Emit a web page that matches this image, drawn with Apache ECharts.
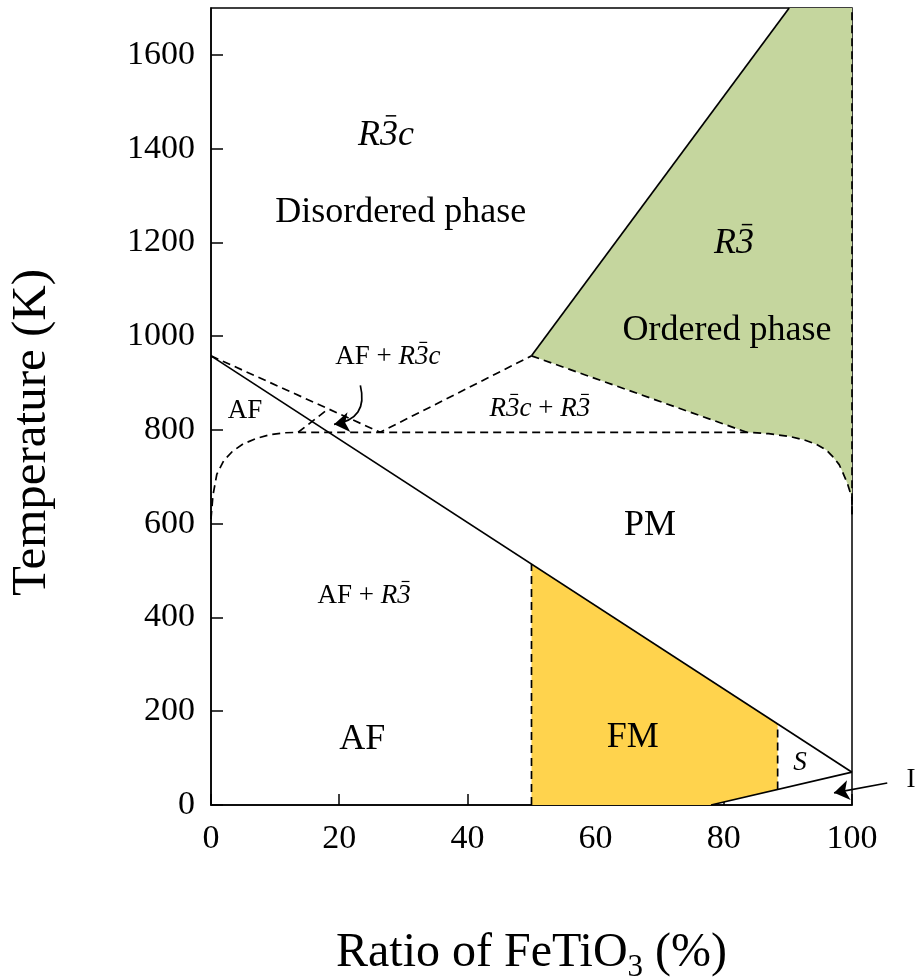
<!DOCTYPE html>
<html>
<head>
<meta charset="utf-8">
<script src="https://cdn.jsdelivr.net/npm/echarts@6/dist/echarts.min.js"></script>
<style>
  html, body { margin: 0; padding: 0; background: #fff; }
  #chart { width: 917px; height: 980px; }
</style>
</head>
<body>
<div id="chart"></div>
<script>
// phase boundaries, [ratio %, temperature K]
const upperSolid = [[0, 958], [100, 70]];
const lowerSolid = [[78, 0], [100, 70]];
const orderSolid = [[50, 958], [90.2, 1700]];
const afR3cDashed = [[0, 958], [26.4, 795], [50, 958]];
const orderDashed = [[50, 958], [83.6, 795]];
const plateauDashed = [
  [0, 610], [0.3, 660], [0.9, 705], [2, 735], [3.4, 755], [5, 770], [7.1, 782],
  [9.2, 790], [11.5, 794], [14, 795], [83.6, 795], [87, 792], [90.3, 786],
  [92.5, 779], [94.5, 769], [96, 757], [97, 743], [98, 726], [98.6, 708],
  [99.3, 685], [100, 655], [100, 620]
];
const shortDashed = [[13.6, 795], [18.3, 845]];
const fmLeftDashed = [[50, 0], [50, 514]];
const fmRightDashed = [[88.4, 33], [88.4, 173]];
const rightDashed = [[100, 620], [100, 1700]];

// filled regions
const orderedRegion = [
  [50, 958], [90.2, 1700], [100, 1700], [100, 620], [100, 655], [99.3, 685],
  [98.6, 708], [98, 726], [97, 743], [96, 757], [94.5, 769], [92.5, 779],
  [90.3, 786], [87, 792], [83.6, 795]
];
const fmRegion = [[50, 0], [50, 514], [88.4, 173], [88.4, 33], [78, 0]];

// arrows: from, to
const arrowAF = [[23.3, 895], [19.2, 812]];
const arrowI = [[105.5, 47], [97.2, 26]];

// {b|3} = italic 3 that gets an overbar
const R3c = '{i|R}{b|3}{i|c}';
const R3 = '{i|R}{b|3}';

const bigLabels = [
  [27.3, 1429, R3c],
  [29.6, 1263, 'Disordered phase'],
  [81.6, 1197, R3],
  [80.5, 1013, 'Ordered phase'],
  [68.5, 597, 'PM'],
  [23.6, 139, 'AF'],
  [65.8, 143, 'FM']
];
const smallLabels = [
  [27.6, 956, 'AF + ' + R3c],
  [5.3, 840, 'AF'],
  [51.3, 845, R3c + ' + ' + R3],
  [23.9, 446, 'AF + ' + R3],
  [91.9, 90, '{i|S}'],
  [109.2, 53, 'I']
];

const FONT = 'Liberation Serif';
const GREEN = '#c5d69e';
const YELLOW = '#ffd34d';

const measureCtx = document.createElement('canvas').getContext('2d');

function parseTokens(str) {
  const re = /\{(\w+)\|([^}]*)\}|([^{]+)/g;
  const out = [];
  let m;
  while ((m = re.exec(str))) {
    if (m[1]) out.push({ style: m[1], text: m[2] });
    else out.push({ style: 'n', text: m[3] });
  }
  return out;
}

function fontFor(style, size) {
  return (style === 'n' ? 'normal' : 'italic') + ' normal ' + size + 'px ' + FONT;
}

// overbars above every {b|3}, placed from the measured text
function overbars(items, size, api) {
  const bars = [];
  items.forEach(function (d) {
    const tokens = parseTokens(d[2]);
    if (!tokens.some(t => t.style === 'b')) return;
    const widths = tokens.map(function (t) {
      measureCtx.font = fontFor(t.style, size);
      return measureCtx.measureText(t.text).width;
    });
    const total = widths.reduce((a, b) => a + b, 0);
    const c = api.coord([d[0], d[1]]);
    measureCtx.font = fontFor('b', size);
    measureCtx.textBaseline = 'middle';
    const top = c[1] - measureCtx.measureText('3').actualBoundingBoxAscent;
    let x = c[0] - total / 2;
    tokens.forEach(function (t, k) {
      if (t.style === 'b') {
        const w = widths[k];
        const y = top - size * 0.13;
        bars.push({
          type: 'line',
          shape: { x1: x + w * 0.32, y1: y, x2: x + w * 0.9, y2: y },
          style: { stroke: '#000', lineWidth: Math.max(1.2, size / 24) }
        });
      }
      x += widths[k];
    });
  });
  return bars;
}

function polygonSeries(points, color) {
  return {
    type: 'custom',
    silent: true,
    data: [0],
    renderItem: function (params, api) {
      return {
        type: 'polygon',
        shape: { points: points.map(p => api.coord(p)) },
        style: { fill: color }
      };
    },
    z: 1
  };
}

function lineSeries(points, dashed) {
  return {
    type: 'line',
    data: points,
    showSymbol: false,
    symbol: 'none',
    silent: true,
    lineStyle: { color: '#000', width: 1.7, type: dashed ? [8, 5] : 'solid' },
    z: 3
  };
}

function labelSeries(items, size) {
  const base = { fontFamily: FONT, fontSize: size, color: '#000', textBorderWidth: 0, opacity: 1 };
  return {
    type: 'scatter',
    symbolSize: 0,
    silent: true,
    clip: false,
    itemStyle: { opacity: 1 },
    data: items.map(d => [d[0], d[1], d[2]]),
    label: Object.assign({
      show: true,
      position: 'inside',
      formatter: p => p.data[2],
      rich: {
        i: Object.assign({ fontStyle: 'italic' }, base),
        b: Object.assign({ fontStyle: 'italic' }, base)
      }
    }, base),
    z: 5
  };
}

const chart = echarts.init(document.getElementById('chart'));

chart.setOption({
  animation: false,
  grid: {
    left: 211, right: 65, top: 8, bottom: 175,
    outerBoundsMode: 'none',
    containLabel: false,
    show: true, borderColor: '#000', borderWidth: 1.5, backgroundColor: '#fff'
  },
  xAxis: {
    type: 'value',
    min: 0, max: 100, interval: 20,
    name: 'Ratio of FeTiO{sub|3} (%)',
    nameLocation: 'middle',
    nameGap: 119,
    nameTextStyle: {
      fontFamily: FONT, fontSize: 48, color: '#000',
      rich: {
        sub: { fontFamily: FONT, fontSize: 31, color: '#000', padding: [28, 0, 0, 0] }
      }
    },
    axisLine: { lineStyle: { color: '#000', width: 1.5 } },
    axisTick: { inside: true, length: 11, lineStyle: { color: '#000', width: 1.5 } },
    axisLabel: { fontFamily: FONT, fontSize: 34, color: '#000', margin: 17 },
    splitLine: { show: false }
  },
  yAxis: {
    type: 'value',
    min: 0, max: 1700, interval: 200,
    name: 'Temperature (K)',
    nameLocation: 'middle',
    nameGap: 154,
    nameTextStyle: { fontFamily: FONT, fontSize: 49, color: '#000', padding: [0, 52, 0, 0] },
    axisLine: { lineStyle: { color: '#000', width: 1.5 } },
    axisTick: { inside: true, length: 12, lineStyle: { color: '#000', width: 1.5 } },
    axisLabel: {
      fontFamily: FONT, fontSize: 34, color: '#000', margin: 16, showMaxLabel: false,
      formatter: v => String(v)
    },
    splitLine: { show: false }
  },
  series: [
    polygonSeries(orderedRegion, GREEN),
    polygonSeries(fmRegion, YELLOW),
    lineSeries(upperSolid, false),
    lineSeries(lowerSolid, false),
    lineSeries(orderSolid, false),
    lineSeries(afR3cDashed, true),
    lineSeries(orderDashed, true),
    lineSeries(plateauDashed, true),
    lineSeries(shortDashed, true),
    lineSeries(fmLeftDashed, true),
    lineSeries(fmRightDashed, true),
    lineSeries(rightDashed, true),
    {
      type: 'lines',
      coordinateSystem: 'cartesian2d',
      silent: true,
      clip: false,
      symbol: ['none', 'arrow'],
      symbolSize: 15,
      lineStyle: { color: '#000', width: 1.7, opacity: 1 },
      data: [
        { coords: arrowAF, lineStyle: { curveness: 0.55 } },
        { coords: arrowI, lineStyle: { curveness: 0 } }
      ],
      z: 4
    },
    labelSeries(bigLabels, 36),
    labelSeries(smallLabels, 27),
    {
      type: 'custom',
      silent: true,
      clip: false,
      data: [0],
      renderItem: function (params, api) {
        return {
          type: 'group',
          children: overbars(bigLabels, 36, api).concat(overbars(smallLabels, 27, api))
        };
      },
      z: 6
    }
  ]
});
</script>
</body>
</html>
